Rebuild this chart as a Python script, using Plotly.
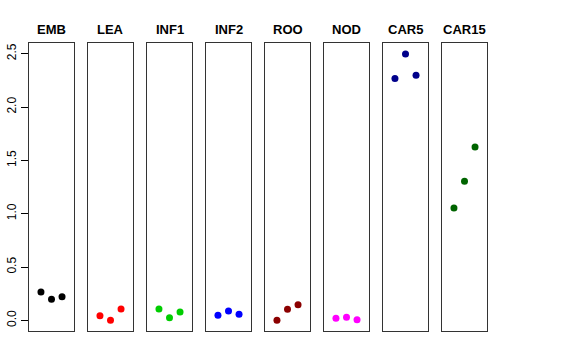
import plotly.graph_objects as go

categories = ["EMB", "LEA", "INF1", "INF2", "ROO", "NOD", "CAR5", "CAR15"]
values = [
    [0.265, 0.197, 0.221],
    [0.043, 0.0, 0.106],
    [0.106, 0.025, 0.078],
    [0.047, 0.087, 0.056],
    [0.0, 0.103, 0.146],
    [0.019, 0.028, 0.006],
    [2.267, 2.498, 2.298],
    [1.053, 1.304, 1.626],
]
colors = ["#000000", "#FF0000", "#00CD00", "#0000FF", "#8B0000", "#FF00FF", "#00008B", "#006400"]
replicates = [1, 2, 3]
y_ticks = [0.0, 0.5, 1.0, 1.5, 2.0, 2.5]
y_tick_labels = ["0.0", "0.5", "1.0", "1.5", "2.0", "2.5"]

W, H = 576, 360
fig = go.Figure()
top_px, bot_px = 43, 331
ydom = [(H - bot_px) / H, (H - top_px) / H]

for i, (cat, vals, col) in enumerate(zip(categories, values, colors)):
    left = 29 + 59 * i
    right = left + 45
    xa = "x" if i == 0 else f"x{i+1}"
    ya = "y" if i == 0 else f"y{i+1}"
    fig.add_trace(go.Scatter(x=replicates, y=vals, mode="markers",
                             marker=dict(color=col, size=7),
                             xaxis=xa, yaxis=ya, showlegend=False))
    xkey = "xaxis" if i == 0 else f"xaxis{i+1}"
    ykey = "yaxis" if i == 0 else f"yaxis{i+1}"
    fig.layout[xkey] = dict(domain=[left / W, right / W], range=[-0.135, 4.135],
                            showline=True, mirror=True, linecolor="#333333", linewidth=1,
                            showgrid=False, zeroline=False, showticklabels=False, ticks="",
                            anchor=ya, fixedrange=True, automargin=False)
    ydict = dict(domain=ydom, range=[-0.1, 2.6], showline=True, mirror=True,
                 linecolor="#333333", linewidth=1, showgrid=False, zeroline=False,
                 anchor=xa, fixedrange=True, automargin=False)
    if i == 0:
        ydict.update(tickvals=y_ticks, ticktext=y_tick_labels, ticks="outside",
                     ticklen=7, tickcolor="#000000", tickangle=-90,
                     tickfont=dict(family="Liberation Sans, Arial", size=12, color="#000000"))
    else:
        ydict.update(showticklabels=False, ticks="")
    fig.layout[ykey] = ydict
    fig.add_annotation(text=f"<b>{cat}</b>", x=(left + right) / 2 / W, y=1 - 29 / H,
                       xref="paper", yref="paper", showarrow=False,
                       xanchor="center", yanchor="middle",
                       font=dict(family="Liberation Sans, Arial", size=13, color="#000000"))

fig.update_layout(width=W, height=H, margin=dict(l=0, r=0, t=0, b=0, autoexpand=False),
                  paper_bgcolor="white", plot_bgcolor="white", hovermode=False)
fig.write_html("out.html", config={"displayModeBar": False, "staticPlot": True},
               post_script="document.body.style.margin='0';")
